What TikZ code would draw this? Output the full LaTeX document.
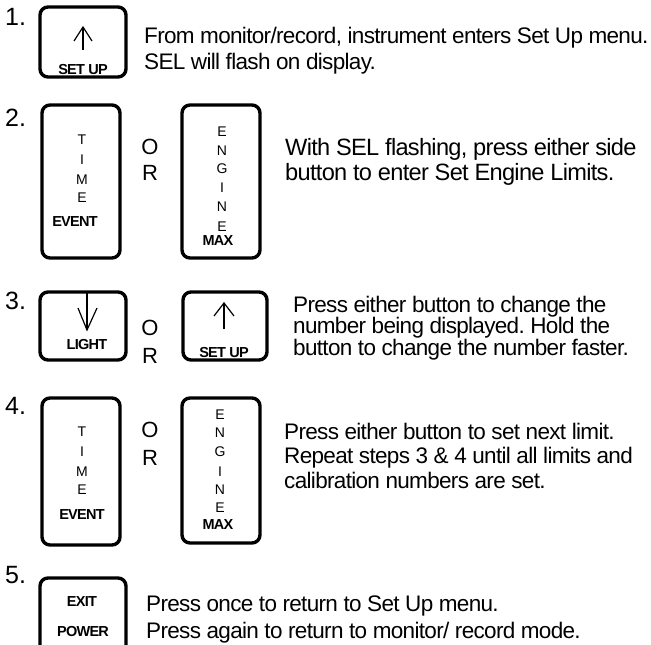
\documentclass[tikz,border=0pt]{standalone}
\usepackage{fontspec}
\setmainfont{Liberation Sans}
\newfontfamily\tightfont[LetterSpace=-3]{Liberation Sans}
\newfontfamily\tightbold[LetterSpace=-5]{Liberation Sans Bold}
\frenchspacing
\begin{document}
\begin{tikzpicture}[x=1pt,y=-1pt,
  btn/.style={draw,line width=3.4pt,rounded corners=8pt},
  body/.style={anchor=base west,inner sep=0pt,font=\tightfont\fontsize{22.5}{26}\selectfont\frenchspacing},
  bodyl/.style={anchor=base west,inner sep=0pt,font=\tightfont\fontsize{23.6}{27}\selectfont\frenchspacing},
  num/.style={anchor=base west,inner sep=0pt,font=\fontsize{25}{28}\selectfont},
  orl/.style={inner sep=0pt,font=\fontsize{22}{26}\selectfont},
  blbl/.style={inner sep=0pt,font=\tightbold\fontsize{14.5}{16}\selectfont},
  vlet/.style={inner sep=0pt,font=\fontsize{14}{16}\selectfont},
  arr/.style={line width=1.2pt}]
\useasboundingbox (0,0) rectangle (651,645);
\clip (0,0) rectangle (651,645);
% step numbers
\node[num] (n1) at (5,25) {1.};
\node[num] (n2) at (5,126) {2.};
\node[num] (n3) at (5,309) {3.};
\node[num] (n4) at (5,414) {4.};
\node[num] (n5) at (5,583) {5.};
% buttons
\draw[btn] (40,7) rectangle (126,77);
\draw[btn] (42,105) rectangle (120,258);
\draw[btn] (182,105) rectangle (260,258);
\draw[btn] (40,292) rectangle (126,360);
\draw[btn] (183,292) rectangle (267,360);
\draw[btn] (42,398) rectangle (120,545);
\draw[btn] (182,398) rectangle (260,543);
\draw[btn] (40,578) rectangle (126,670);
% arrows
\draw[arr] (83,27) -- (83,50);
\draw[arr] (74,41) -- (83,27) -- (92,41);
\draw[arr] (87,292) -- (87,330);
\draw[arr] (78,308) -- (87,330) -- (97,308);
\draw[arr] (224,303) -- (224,329);
\draw[arr] (214,316) -- (224,303) -- (234,316);
% button labels
\node[blbl] (l1) at (83,70) {SET UP};
\node[blbl] (l3a) at (87,345) {LIGHT};
\node[blbl] (l3b) at (224,353) {SET UP};
\node[blbl] (l2a) at (75,222) {EVENT};
\node[blbl] (l2b) at (218,241) {MAX};
\node[blbl] (l4a) at (82,515) {EVENT};
\node[blbl] (l4b) at (218,525) {MAX};
\node[blbl] (l5a) at (82,602) {EXIT};
\node[blbl] (l5b) at (83,632) {POWER};
\foreach \ch/\yy [count=\i] in {T/140,I/160,M/180,E/198}
  \node[vlet] (t2\i) at (82,\yy) {\ch};
\foreach \ch/\yy [count=\i] in {E/132,N/151,G/169,I/188,N/207,E/227}
  \node[vlet] (e2\i) at (222,\yy) {\ch};
\foreach \ch/\yy [count=\i] in {T/432,I/452,M/472,E/490}
  \node[vlet] (t4\i) at (82,\yy) {\ch};
\foreach \ch/\yy [count=\i] in {E/415,N/433,G/452,I/472,N/490,E/508}
  \node[vlet] (e4\i) at (220,\yy) {\ch};
% O R
\node[orl] (o2) at (150,147) {O};
\node[orl] (r2) at (150,173) {R};
\node[orl] (o3) at (150,328) {O};
\node[orl] (r3) at (150,356) {R};
\node[orl] (o4) at (150,430) {O};
\node[orl] (r4) at (150,458) {R};
% body text
\node[body] (a1) at (144,43) {From monitor/record, instrument enters Set Up menu.};
\node[body] (b1) at (144,69) {SEL will flash on display.};
\node[bodyl] (a2) at (285,155) {With SEL flashing, press either side};
\node[bodyl] (b2) at (285,180) {button to enter Set Engine Limits.};
\node[body] (a3) at (293,312) {Press either button to change the};
\node[body] (b3) at (293,333) {number being displayed. Hold the};
\node[body] (c3) at (293,355) {button to change the number faster.};
\node[body] (a4) at (284,439) {Press either button to set next limit.};
\node[body] (b4) at (284,463) {Repeat steps 3 \& 4 until all limits and};
\node[body] (c4) at (284,488) {calibration numbers are set.};
\node[body] (a5) at (146,611) {Press once to return to Set Up menu.};
\node[body] (b5) at (146,638) {Press again to return to monitor/ record mode.};
\end{tikzpicture}
\end{document}
